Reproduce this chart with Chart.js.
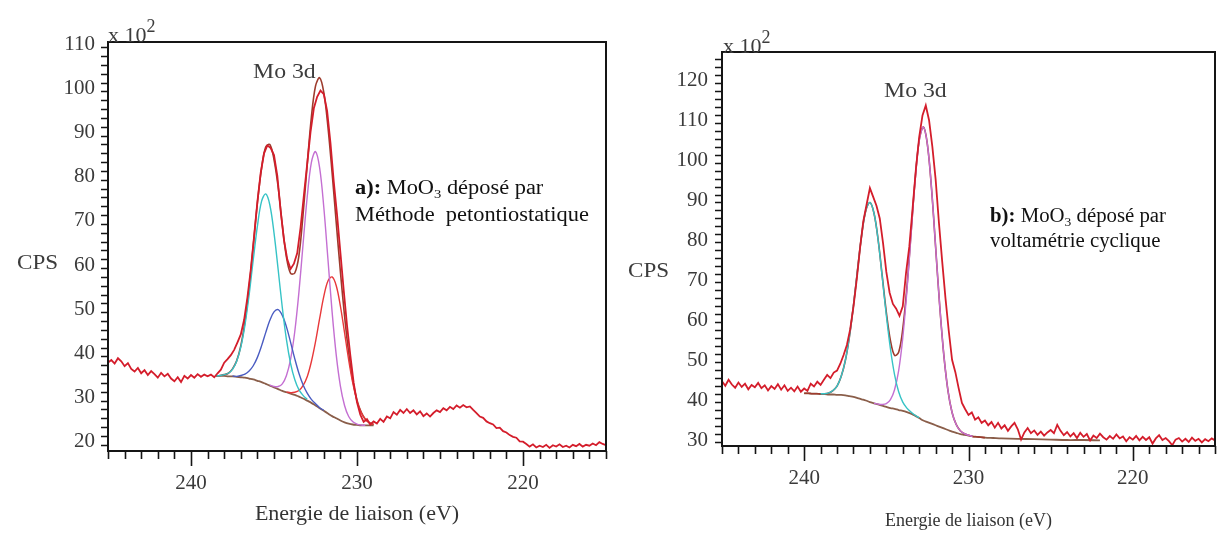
<!DOCTYPE html>
<html>
<head>
<meta charset="utf-8">
<script src="https://cdn.jsdelivr.net/npm/chart.js@4.4.1/dist/chart.umd.min.js"></script>
<style>
  html, body { margin: 0; padding: 0; background: #fff; }
  #page { position: relative; width: 1225px; height: 534px; overflow: hidden;
          font-family: "Liberation Serif", "Times New Roman", serif; }
  canvas { position: absolute; top: 0; }
  .txt { position: absolute; white-space: nowrap; color: #3c3c3c; line-height: 22px; }
  .mult { font-size: 22px; }
  .mult span { position: relative; top: -10px; font-size: 18px; }
  .cps { font-size: 21px; transform: scaleX(1.1); transform-origin: left center; }
  .peak { font-size: 22px; transform: scaleX(1.08); transform-origin: left center; }
  .note { font-size: 20px; color: #111; transform-origin: left top; }
  .note sub { font-size: 13px; vertical-align: baseline; position: relative; top: 4px; }
</style>
</head>
<body>
<div id="page">
  <canvas id="chartA" width="612" height="534" style="left:0"></canvas>
  <canvas id="chartB" width="613" height="534" style="left:612px"></canvas>

  <div class="txt mult" style="left:108px; top:24px">x 10<span>2</span></div>
  <div class="txt cps" style="left:17px; top:251px">CPS</div>
  <div class="txt peak" style="left:253px; top:60px">Mo 3d</div>
  <div class="txt note" style="left:355px; top:175px; line-height:25px; transform:scaleX(1.12)">
    <b>a):</b> MoO<sub>3</sub> déposé par<br>Méthode&nbsp; petontiostatique</div>

  <div class="txt mult" style="left:723px; top:35px">x 10<span>2</span></div>
  <div class="txt cps" style="left:628px; top:259px">CPS</div>
  <div class="txt peak" style="left:884px; top:79px">Mo 3d</div>
  <div class="txt note" style="left:990px; top:204px; line-height:22px; transform:scaleX(1.04)">
    <b>b):</b> MoO<sub>3</sub> déposé par<br>voltamétrie cyclique</div>
</div>

<script>
const _ = null;

// binding energy (eV) of the measured spectra, both panels
const rawEnergy = [
  245, 244.8, 244.6, 244.4, 244.2, 244, 243.8, 243.6, 243.4, 243.2,
  243, 242.8, 242.6, 242.4, 242.2, 242, 241.8, 241.6, 241.4, 241.2,
  241, 240.8, 240.6, 240.4, 240.2, 240, 239.8, 239.6, 239.4, 239.2,
  239, 238.8, 238.6, 238.4, 238.2, 238, 237.8, 237.6, 237.4, 237.2,
  237, 236.8, 236.6, 236.4, 236.2, 236, 235.8, 235.6, 235.4, 235.2,
  235, 234.8, 234.6, 234.4, 234.2, 234, 233.8, 233.6, 233.4, 233.2,
  233, 232.8, 232.6, 232.4, 232.2, 232, 231.8, 231.6, 231.4, 231.2,
  231, 230.8, 230.6, 230.4, 230.2, 230, 229.8, 229.6, 229.4, 229.2,
  229, 228.8, 228.6, 228.4, 228.2, 228, 227.8, 227.6, 227.4, 227.2,
  227, 226.8, 226.6, 226.4, 226.2, 226, 225.8, 225.6, 225.4, 225.2,
  225, 224.8, 224.6, 224.4, 224.2, 224, 223.8, 223.6, 223.4, 223.2,
  223, 222.8, 222.6, 222.4, 222.2, 222, 221.8, 221.6, 221.4, 221.2,
  221, 220.8, 220.6, 220.4, 220.2, 220, 219.8, 219.6, 219.4, 219.2,
  219, 218.8, 218.6, 218.4, 218.2, 218, 217.8, 217.6, 217.4, 217.2,
  217, 216.8, 216.6, 216.4, 216.2, 216, 215.8, 215.6, 215.4, 215.2,
  215
];

// counts (x10^2 CPS), panel a
const rawA = [
  38.6, 39.2, 38.4, 39.6, 38.9, 37.8, 38.5, 37.2, 36.6, 37.4,
  36.2, 36.9, 35.8, 36.7, 36.0, 35.2, 36.3, 35.5, 36.1, 35.0,
  34.4, 35.3, 34.2, 35.6, 35.0, 35.8, 35.2, 36.0, 35.4, 35.9,
  35.5, 35.9, 35.3, 36.2, 37.0, 38.6, 39.4, 40.3, 41.5, 43.2,
  45.0, 48.3, 53.4, 59.6, 67.2, 75.0, 81.6, 86.0, 87.8, 87.2,
  85.6, 80.9, 73.0, 66.4, 62.0, 59.8, 61.0, 63.4, 69.2, 76.5,
  83.6, 90.8, 96.2, 98.8, 100.2, 99.4, 95.6, 88.4, 79.6, 72.0,
  63.5, 55.0, 47.0, 40.2, 34.0, 29.6, 26.8, 25.2, 25.8, 24.6,
  25.3, 24.8, 25.9, 25.2, 26.4, 26.0, 27.4, 26.8, 27.9, 27.2,
  28.1, 27.2, 27.8, 26.9, 27.6, 26.5, 27.1, 26.4, 27.2, 27.8,
  27.4, 28.3, 27.8, 28.6, 28.1, 28.9, 28.4, 29.0, 28.5, 28.7,
  27.9, 27.2, 26.4, 26.1, 25.3, 24.9, 24.6, 23.8, 23.9, 23.1,
  22.8, 22.2, 21.8, 21.6, 20.8, 20.7, 20.2, 19.6, 20.1, 19.4,
  19.8, 19.5, 20.0, 19.3, 19.9, 19.6, 20.1, 19.5, 19.8, 19.4,
  20.0, 19.7, 20.2, 19.6, 20.0, 19.8, 20.3, 19.9, 20.6, 20.2,
  19.9
];

// counts (x10^2 CPS), panel b
const rawB = [
  45.2, 44.1, 45.6, 44.4, 43.6, 44.9, 43.8, 44.6, 43.2, 44.3,
  43.7, 44.8, 43.5, 44.2, 42.9, 44.0, 43.3, 44.5, 43.1, 44.2,
  42.8, 43.6, 42.7, 43.9, 42.6, 43.4, 42.8, 44.6, 43.9, 45.1,
  44.3, 45.6, 46.8, 46.0, 47.4, 47.9, 49.6, 51.8, 54.3, 58.2,
  63.9, 70.8, 78.6, 85.3, 89.5, 93.6, 91.4, 89.2, 86.0, 79.8,
  72.6, 67.4, 64.6, 63.4, 61.6, 64.0, 72.4, 79.0, 88.6, 98.4,
  106.4, 111.8, 114.3, 110.6, 104.0, 95.8, 85.0, 75.2, 66.0, 57.8,
  50.6, 47.5, 43.5, 39.8, 38.2, 36.8, 37.4, 35.6, 36.2, 34.8,
  35.4, 34.2, 35.0, 33.6, 34.8, 33.4, 34.2, 32.8, 33.9, 34.8,
  33.2, 30.6, 32.4, 33.5, 32.2, 32.9, 31.8, 32.6, 31.6, 32.4,
  33.0, 32.2, 34.3, 32.8, 31.7, 32.5, 31.4, 32.2, 31.0, 32.3,
  31.3, 32.0, 30.4, 31.6, 31.0, 32.1, 31.2, 30.6, 31.5, 30.8,
  31.9, 30.9, 31.4, 30.2, 31.2, 30.6, 31.5, 30.4, 31.3, 30.5,
  31.2, 29.6, 30.9, 31.7, 30.5, 31.0, 30.2, 29.2, 30.6, 31.0,
  30.1, 30.8, 30.0, 31.1, 30.3, 30.8, 29.9, 30.7, 30.2, 30.9,
  30.4
];

// energy grid of the fitted curves
const fitEnergy = [
  240, 239.75, 239.5, 239.25, 239, 238.75, 238.5, 238.25, 238, 237.75,
  237.5, 237.25, 237, 236.75, 236.5, 236.25, 236, 235.75, 235.5, 235.25,
  235, 234.75, 234.5, 234.25, 234, 233.75, 233.5, 233.25, 233, 232.75,
  232.5, 232.25, 232, 231.75, 231.5, 231.25, 231, 230.75, 230.5, 230.25,
  230, 229.75, 229.5, 229.25, 229
];

// panel a fit
const envelopeA = [
  _, _, _, _, _, _, 35.6, 35.7, 35.9, 36.2,
  37.2, 39.0, 42.4, 47.9, 55.6, 65.0, 74.8, 82.6, 87.4, 88.0,
  84.6, 78.4, 69.8, 62.5, 58.8, 58.9, 62.8, 72.1, 83.4, 94.1,
  101.2, 103.1, 99.8, 92.0, 81.6, 70.3, 59.2, 49.2, 40.8, 34.5,
  30.1, 27.4, 25.8, 25.0, 24.6
];
const backgroundA = [
  _, _, _, _, _, _, 35.6, 35.6, 35.6, 35.5,
  35.5, 35.4, 35.3, 35.2, 35.0, 34.8, 34.5, 34.2, 33.8, 33.4,
  33.0, 32.6, 32.2, 31.9, 31.6, 31.3, 30.9, 30.5, 30.0, 29.5,
  28.9, 28.3, 27.7, 27.1, 26.5, 26.0, 25.5, 25.1, 24.8, 24.6,
  24.5, 24.4, 24.4, 24.4, 24.4
];
const cyanA = [
  _, _, _, _, _, _, 35.6, 35.7, 35.9, 36.2,
  37.1, 38.9, 42.1, 47.1, 53.9, 61.9, 69.5, 75.1, 76.8, 74.3,
  68.0, 59.7, 51.1, 43.8, 38.4, 34.8, 32.5, 31.2, 30.3, _,
  _, _, _, _, _, _, _, _, _, _,
  _, _, _, _, _
];
const blueA = [
  _, _, _, _, _, _, _, _, _, _,
  35.6, 35.5, 35.7, 36.0, 36.7, 37.9, 39.8, 42.4, 45.4, 48.2,
  50.1, 50.6, 49.3, 46.7, 43.2, 39.5, 36.2, 33.6, 31.7, 30.3,
  29.3, 28.4, 27.8, _, _, _, _, _, _, _,
  _, _, _, _, _
];
const violetA = [
  _, _, _, _, _, _, _, _, _, _,
  _, _, _, _, _, _, _, _, _, 33.5,
  33.2, 33.2, 33.8, 35.7, 39.4, 45.6, 54.5, 65.4, 76.1, 83.9,
  86.4, 82.7, 73.8, 62.0, 50.1, 40.3, 33.3, 28.9, 26.4, 25.2,
  24.7, 24.5, 24.4, _, _
];
const redA = [
  _, _, _, _, _, _, _, _, _, _,
  _, _, _, _, _, _, _, _, _, _,
  _, _, _, 32.0, 31.8, 31.9, 32.3, 33.4, 35.4, 38.8,
  43.3, 48.6, 53.6, 57.1, 58.0, 56.0, 51.4, 45.4, 39.2, 33.9,
  29.9, 27.3, 25.8, 25.0, 24.6
];

// panel b fit
const envelopeB = [
  42.2, 42.2, 42.1, 42.1, 42.1, 42.1, 42.3, 42.9, 44.0, 46.4,
  50.3, 56.3, 64.2, 73.2, 81.9, 88.0, 90.0, 87.3, 80.7, 71.6,
  62.5, 55.4, 51.7, 52.5, 58.3, 68.7, 82.1, 95.6, 105.6, 108.9,
  104.5, 93.5, 78.8, 64.0, 51.7, 42.9, 37.4, 34.4, 32.8, 32.1,
  31.7, 31.4, 31.3, 31.2, 31.1
];
const backgroundB = [
  42.2, 42.2, 42.1, 42.1, 42.0, 42.0, 41.9, 41.9, 41.8, 41.8,
  41.7, 41.5, 41.3, 41.0, 40.7, 40.4, 40.0, 39.7, 39.4, 39.1,
  38.8, 38.5, 38.3, 38.0, 37.8, 37.5, 37.1, 36.6, 36.0, 35.4,
  35.0, 34.6, 34.2, 33.8, 33.4, 33.0, 32.6, 32.3, 32.0, 31.8,
  31.6, 31.4, 31.3, 31.2, 31.1
];
const bgTailEnergyB = [228.5, 228, 227, 226, 225, 224, 223, 222];
const bgTailB = [31.0, 30.9, 30.8, 30.7, 30.6, 30.5, 30.5, 30.4];
const cyanB = [
  _, _, _, _, 42.1, 42.1, 42.3, 42.9, 44.0, 46.4,
  50.3, 56.3, 64.2, 73.2, 81.9, 88.0, 90.0, 87.3, 80.6, 71.3,
  61.7, 53.3, 46.9, 42.6, 40.0, 38.5, 37.5, 36.7, 36.1, _,
  _, _, _, _, _, _, _, _, _, _,
  _, _, _, _, _
];
const violetB = [
  _, _, _, _, _, _, _, _, _, _,
  _, _, _, _, _, _, _, 39.7, 39.5, 39.4,
  39.6, 40.6, 43.1, 47.9, 56.1, 67.7, 81.7, 95.5, 105.5, 108.9,
  104.5, 93.5, 78.8, 64.0, 51.7, 42.9, 37.4, 34.4, 32.8, 32.1,
  31.7, 31.4, _, _, _
];

// axes
const energyRange = [215, 245];
const energyTicks = [240, 230, 220];
const countTicksA = [20, 30, 40, 50, 60, 70, 80, 90, 100, 110];
const countTicksB = [30, 40, 50, 60, 70, 80, 90, 100, 110, 120];

const colors = {
  raw: '#d41d2b', envelope: '#9e3b2d', background: '#8a5e4a',
  cyan: '#36c3c6', blue: '#4a5cc2', violet: '#c46fd2', red: '#e8383a'
};

function pts(energies, values) {
  const out = [];
  energies.forEach((e, i) => { if (values[i] !== null) out.push({x: e, y: values[i]}); });
  return out;
}

function line(data, color, width, tension) {
  return {
    data: data, borderColor: color, borderWidth: width,
    pointRadius: 0, tension: tension, fill: false, spanGaps: false
  };
}

// box and minor/major tick marks drawn on the chart's own scales
const frameTicks = {
  id: 'frameTicks',
  afterDraw(chart, args, opts) {
    const {ctx, chartArea: a, scales: {x, y}} = chart;
    ctx.save();
    ctx.strokeStyle = '#151515';
    ctx.lineWidth = 2;
    ctx.strokeRect(a.left, a.top, a.right - a.left, a.bottom - a.top);
    ctx.lineWidth = 1.6;
    ctx.beginPath();
    for (let e = energyRange[0]; e <= energyRange[1]; e++) {
      const px = Math.round(x.getPixelForValue(e)) + 0.5;
      const len = e % 10 === 0 ? 15 : 8;
      ctx.moveTo(px, a.bottom);
      ctx.lineTo(px, a.bottom + len);
    }
    for (let v = Math.ceil(y.min / opts.yStep) * opts.yStep; v <= y.max; v += opts.yStep) {
      const py = Math.round(y.getPixelForValue(v)) + 0.5;
      ctx.moveTo(a.left - 7, py);
      ctx.lineTo(a.left, py);
    }
    ctx.stroke();
    ctx.restore();
  }
};

function makePanel(id, p) {
  new Chart(document.getElementById(id), {
    type: 'line',
    data: { datasets: p.datasets },
    options: {
      responsive: false,
      animation: false,
      events: [],
      layout: { padding: { top: p.top, right: p.right, left: 0, bottom: 0 } },
      plugins: { legend: { display: false }, tooltip: { enabled: false },
                 frameTicks: { yStep: p.yStep } },
      scales: {
        x: {
          type: 'linear', reverse: true, min: energyRange[0], max: energyRange[1],
          grid: { display: false, drawTicks: false },
          border: { display: false },
          afterBuildTicks: s => { s.ticks = energyTicks.map(v => ({value: v})); },
          afterFit: s => { s.height = p.xHeight; },
          ticks: { autoSkip: false, maxRotation: 0, padding: 20, color: '#3a3a3a',
                   font: { family: 'Liberation Serif', size: 21 } },
          title: { display: true, text: 'Energie de liaison (eV)', color: '#333',
                   font: { family: 'Liberation Serif', size: p.titleSize },
                   padding: { top: 0, bottom: p.titlePad } }
        },
        y: {
          type: 'linear', min: p.yMin, max: p.yMax,
          grid: { display: false, drawTicks: false },
          border: { display: false },
          afterBuildTicks: s => { s.ticks = p.yTicks.map(v => ({value: v})); },
          afterFit: s => { s.width = p.yWidth; },
          ticks: { autoSkip: false, padding: p.yPad, labelOffset: p.labelOffset, color: '#3a3a3a',
                   font: { family: 'Liberation Serif', size: 21 } }
        }
      }
    },
    plugins: [frameTicks]
  });
}

// first dataset is drawn on top
makePanel('chartA', {
  top: 42, right: 6, xHeight: 83, yWidth: 108, yMin: 18.6, yMax: 111.2,
  yTicks: countTicksA, yStep: 2, yPad: 13, labelOffset: -3, titleSize: 22, titlePad: 7,
  datasets: [
    line(pts(rawEnergy, rawA), colors.raw, 1.8, 0),
    line(pts(fitEnergy, cyanA), colors.cyan, 1.4, 0.35),
    line(pts(fitEnergy, blueA), colors.blue, 1.4, 0.35),
    line(pts(fitEnergy, violetA), colors.violet, 1.4, 0.35),
    line(pts(fitEnergy, redA), colors.red, 1.4, 0.35),
    line(pts(fitEnergy, envelopeA), colors.envelope, 1.6, 0.35),
    line(pts(fitEnergy, backgroundA), colors.background, 1.8, 0.35)
  ]
});

makePanel('chartB', {
  top: 52, right: 10, xHeight: 88, yWidth: 110, yMin: 29, yMax: 127.7,
  yTicks: countTicksB, yStep: 2, yPad: 14, labelOffset: -2, titleSize: 18, titlePad: 2,
  datasets: [
    line(pts(rawEnergy, rawB), colors.raw, 1.8, 0),
    line(pts(fitEnergy, cyanB), colors.cyan, 1.4, 0.35),
    line(pts(fitEnergy, violetB), colors.violet, 1.4, 0.35),
    line(pts(fitEnergy, envelopeB), colors.envelope, 1.6, 0.35),
    line(pts(fitEnergy, backgroundB).concat(pts(bgTailEnergyB, bgTailB)), colors.background, 1.8, 0.35)
  ]
});
</script>
</body>
</html>
